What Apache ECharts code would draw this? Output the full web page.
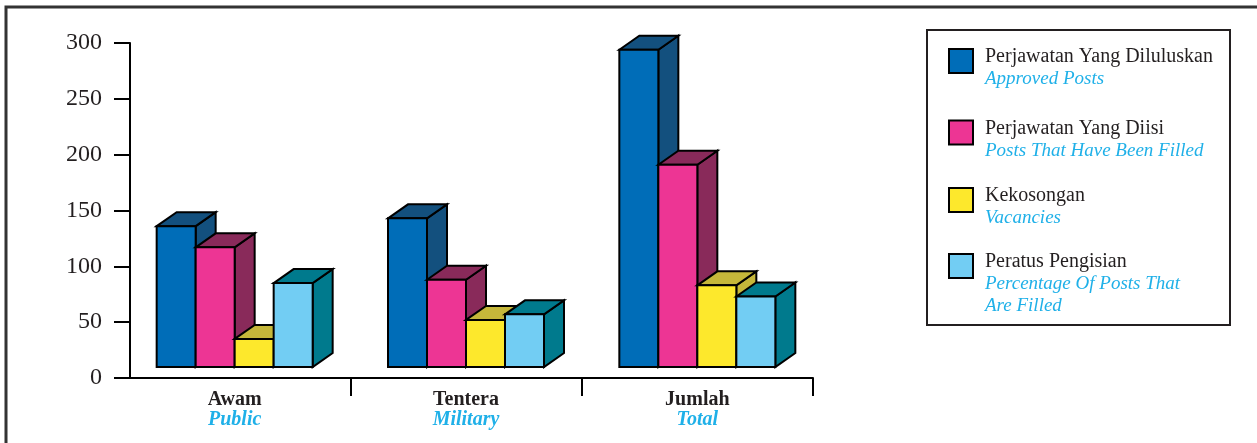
<!DOCTYPE html>
<html>
<head>
<meta charset="utf-8">
<script src="https://cdn.jsdelivr.net/npm/echarts@6/dist/echarts.min.js"></script>
<style>
  html, body { margin: 0; padding: 0; background: #fff; }
  #chart { width: 1257px; height: 443px; }
</style>
</head>
<body>
<div id="chart"></div>
<script>
// data
var categories = ['Awam', 'Tentera', 'Jumlah'];
var categoriesEn = ['Public', 'Military', 'Total'];
var approvedPosts = [136, 143, 294];
var filledPosts = [117, 88, 191];
var vacancies = [35, 52, 83];
var percentFilled = [85, 57, 73];
var yTicks = [0, 50, 100, 150, 200, 250, 300];

var seriesNames = ['Perjawatan Yang Diluluskan', 'Perjawatan Yang Diisi', 'Kekosongan', 'Peratus Pengisian'];
var seriesNamesEn = [['Approved Posts'], ['Posts That Have Been Filled'], ['Vacancies'], ['Percentage Of Posts That', 'Are Filled']];
var seriesValues = [approvedPosts, filledPosts, vacancies, percentFilled];

var frontColors = ['#006db8', '#ed3594', '#fde82c', '#72cdf3'];
var darkColors = ['#13507e', '#892a5a', '#c5b73a', '#007a8d'];

var FONT = 'Liberation Serif';
var BAR_W = 39, DX = 20, DY = 14, LIFT = 11;

// separators between the groups (band edges, skipping the first one)
var bandEdges = categories.map(function (c, i) { return i + 1; });

function bar3d(front, dark) {
    return function (params, api) {
        var c = api.value(0);
        var base = api.coord([c, 0]);
        var top = api.coord([c, api.value(1)]);
        var x0 = base[0] + (params.seriesIndex - 2) * BAR_W;
        var x1 = x0 + BAR_W;
        var yb = base[1] - LIFT;
        var yt = top[1];
        var line = { stroke: '#000', lineWidth: 2, lineJoin: 'miter' };
        return {
            type: 'group',
            children: [
                { type: 'polygon', shape: { points: [[x1, yt], [x1 + DX, yt - DY], [x1 + DX, yb - DY], [x1, yb]] },
                  style: Object.assign({ fill: dark }, line) },
                { type: 'polygon', shape: { points: [[x0, yt], [x0 + DX, yt - DY], [x1 + DX, yt - DY], [x1, yt]] },
                  style: Object.assign({ fill: dark }, line) },
                { type: 'rect', shape: { x: x0, y: yt, width: BAR_W, height: yb - yt },
                  style: Object.assign({ fill: front }, line) }
            ]
        };
    };
}

var series = seriesNames.map(function (name, i) {
    return {
        name: name,
        type: 'custom',
        renderItem: bar3d(frontColors[i], darkColors[i]),
        itemStyle: { color: frontColors[i] },
        encode: { x: 0, y: 1 },
        data: seriesValues[i].map(function (v, k) { return [k, v]; })
    };
});

// one legend per item so each block sits where the picture has it
var legendTops = [47, 119, 186, 252];
var legendPad = [14, 15, 14, 36];
var legends = seriesNames.map(function (name, i) {
    return {
        left: 948,
        top: legendTops[i],
        orient: 'vertical',
        padding: 0,
        selectedMode: false,
        icon: 'rect',
        itemWidth: 24,
        itemHeight: 24,
        itemStyle: { borderColor: '#000', borderWidth: 2 },
        data: [name],
        formatter: function (n) {
            var en = seriesNamesEn[i].map(function (t) { return '{e|' + t + '}'; }).join('\n');
            return '{n|' + n + '}\n' + en;
        },
        textStyle: {
            padding: [legendPad[i], 0, 0, 7],
            rich: {
                n: { fontFamily: FONT, fontSize: 20, lineHeight: 22, color: '#231f20' },
                e: { fontFamily: FONT, fontSize: 19, lineHeight: 22, fontStyle: 'italic', color: '#1fb0e8' }
            }
        }
    };
});

var chart = echarts.init(document.getElementById('chart'));
chart.setOption({
    animation: false,
    grid: { left: 119, top: 43, width: 694, height: 335 },
    xAxis: [{
        type: 'category',
        data: categories,
        axisLine: { lineStyle: { color: '#000', width: 2 } },
        axisTick: { show: false },
        axisLabel: {
            margin: 12,
            formatter: function (v, idx) { return '{a|' + v + '}\n{b|' + categoriesEn[idx] + '}'; },
            rich: {
                a: { fontFamily: FONT, fontSize: 20, fontWeight: 'bold', lineHeight: 20, color: '#231f20' },
                b: { fontFamily: FONT, fontSize: 20, fontWeight: 'bold', fontStyle: 'italic', lineHeight: 20, color: '#1fb0e8' }
            }
        }
    }, {
        type: 'value',
        position: 'bottom',
        min: 0,
        max: categories.length,
        interval: 1,
        axisLine: { show: false },
        splitLine: { show: false },
        axisLabel: { show: false },
        axisTick: { show: true, length: 18, customValues: bandEdges, lineStyle: { color: '#000', width: 2 } }
    }],
    yAxis: {
        type: 'value',
        min: yTicks[0],
        max: yTicks[yTicks.length - 1],
        interval: yTicks[1] - yTicks[0],
        offset: -11,
        splitLine: { show: false },
        axisLine: { show: true, lineStyle: { color: '#000', width: 2 } },
        axisTick: { show: true, length: 16, lineStyle: { color: '#000', width: 2 } },
        axisLabel: { margin: 28, fontFamily: FONT, fontSize: 24, color: '#231f20' }
    },
    legend: legends,
    graphic: [
        { type: 'polyline', shape: { points: [[6, 443], [6, 7], [1257, 7]] },
          style: { stroke: '#333', lineWidth: 3, fill: null }, silent: true },
        { type: 'rect', shape: { x: 927, y: 30, width: 303, height: 295 },
          style: { stroke: '#231f20', lineWidth: 2, fill: null }, silent: true }
    ],
    series: series
});
</script>
</body>
</html>
